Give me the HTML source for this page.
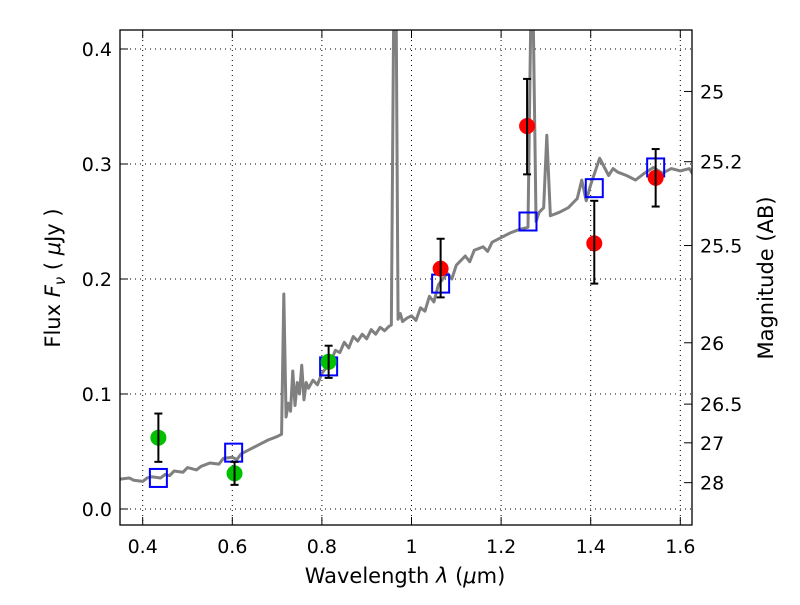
<!DOCTYPE html>
<html><head><meta charset="utf-8"><style>
body{margin:0;background:#fff;}
svg text{font-family:"DejaVu Sans","Liberation Sans",sans-serif;}
</style></head><body>
<svg id="chart" width="800" height="600" xmlns="http://www.w3.org/2000/svg">
<rect width="800" height="600" fill="#fff"/>
<g id="grid"></g>
<g id="spec"></g>
<g id="marks"></g>
<rect x="120" y="30" width="572" height="495" fill="none" stroke="#000" stroke-width="1.3"/>
<g id="ticks"></g>
<text x="405" y="583" font-size="21" text-anchor="middle">Wavelength  <tspan font-style="italic">λ</tspan> (<tspan font-style="italic">μ</tspan>m)</text>
<text transform="translate(60,278) rotate(-90)" font-size="21" text-anchor="middle">Flux  <tspan font-style="italic">F</tspan><tspan font-style="italic" font-size="15" dy="5">ν</tspan><tspan dy="-5">  ( </tspan><tspan font-style="italic">μ</tspan>Jy )</text>
<text transform="translate(773,278) rotate(-90)" font-size="21" text-anchor="middle">Magnitude (AB)</text>
</svg>
<script>
const specLam=[0.35,0.37,0.38,0.40,0.41,0.42,0.44,0.45,0.46,0.47,0.49,0.50,0.52,0.53,0.55,0.57,0.58,0.60,0.61,0.62,0.64,0.66,0.68,0.70,0.71,0.715,0.72,0.725,0.73,0.735,0.74,0.745,0.75,0.755,0.76,0.765,0.77,0.78,0.79,0.80,0.82,0.83,0.84,0.85,0.86,0.87,0.88,0.89,0.90,0.91,0.92,0.93,0.94,0.95,0.955,0.96,0.966,0.97,0.975,0.98,0.99,1.0,1.01,1.02,1.03,1.04,1.05,1.06,1.08,1.09,1.10,1.12,1.13,1.14,1.16,1.17,1.18,1.20,1.22,1.24,1.26,1.266,1.272,1.278,1.285,1.295,1.302,1.31,1.33,1.35,1.37,1.38,1.39,1.40,1.42,1.44,1.45,1.46,1.48,1.50,1.52,1.54,1.56,1.58,1.60,1.62,1.63];
const specFlux=[0.026,0.027,0.025,0.024,0.027,0.028,0.027,0.030,0.029,0.033,0.032,0.036,0.034,0.037,0.040,0.039,0.044,0.045,0.043,0.048,0.052,0.056,0.060,0.063,0.065,0.187,0.080,0.092,0.085,0.12,0.09,0.11,0.10,0.125,0.095,0.11,0.105,0.112,0.108,0.118,0.128,0.138,0.136,0.145,0.140,0.150,0.146,0.152,0.148,0.156,0.152,0.158,0.155,0.159,0.16,0.42,0.42,0.165,0.17,0.163,0.166,0.168,0.164,0.175,0.172,0.185,0.180,0.195,0.205,0.200,0.212,0.22,0.215,0.225,0.228,0.224,0.232,0.236,0.24,0.243,0.245,0.42,0.42,0.25,0.258,0.262,0.325,0.255,0.258,0.262,0.27,0.286,0.268,0.282,0.305,0.29,0.296,0.293,0.29,0.286,0.292,0.297,0.292,0.296,0.294,0.296,0.29];
const greenLam=[0.435,0.605,0.815];
const greenFlux=[0.062,0.031,0.128];
const greenLo=[0.041,0.021,0.114];
const greenHi=[0.083,0.041,0.142];
const redLam=[1.065,1.258,1.408,1.545];
const redFlux=[0.209,0.333,0.231,0.288];
const redLo=[0.184,0.291,0.196,0.263];
const redHi=[0.235,0.374,0.268,0.313];
const modelLam=[0.435,0.603,0.815,1.065,1.26,1.408,1.545];
const modelFlux=[0.027,0.049,0.124,0.196,0.250,0.279,0.297];
const xTicks=[0.4,0.6,0.8,1.0,1.2,1.4,1.6];
const xTickLabels=["0.4","0.6","0.8","1","1.2","1.4","1.6"];
const yTicks=[0.0,0.1,0.2,0.3,0.4];
const yTickLabels=["0.0","0.1","0.2","0.3","0.4"];
const magTicks=[25,25.2,25.5,26,26.5,27,28];
const magLabels=["25","25.2","25.5","26","26.5","27","28"];

const NS="http://www.w3.org/2000/svg";
const X=l=>411.5+(l-1)*448;
const Y=f=>509-f*1150;
function mk(p,tag,a){const e=document.createElementNS(NS,tag);for(const k in a)e.setAttribute(k,a[k]);p.appendChild(e);return e;}
const grid=document.getElementById('grid'),ticks=document.getElementById('ticks'),spec=document.getElementById('spec'),marks=document.getElementById('marks');
xTicks.forEach((v,i)=>{
 const g=mk(grid,'line',{x1:X(v),x2:X(v),y1:30,y2:525,stroke:'#000','stroke-dasharray':'1,4','stroke-width':1});
 
 
 mk(ticks,'line',{x1:X(v),x2:X(v),y1:525,y2:517,stroke:'#000'});
 mk(ticks,'line',{x1:X(v),x2:X(v),y1:30,y2:38,stroke:'#000'});
 const t=mk(ticks,'text',{x:X(v),y:553,'font-size':19,'text-anchor':'middle'});t.textContent=xTickLabels[i];
 
 
});
yTicks.forEach((v,i)=>{
 const g=mk(grid,'line',{x1:120,x2:692,y1:Y(v),y2:Y(v),stroke:'#000','stroke-dasharray':'1,4','stroke-width':1});
 
 
 mk(ticks,'line',{x1:120,x2:128,y1:Y(v),y2:Y(v),stroke:'#000'});
 const t=mk(ticks,'text',{x:112,y:Y(v)+7,'font-size':19,'text-anchor':'end'});t.textContent=yTickLabels[i];
 
 
});
magTicks.forEach((m,i)=>{
 const y=Y(Math.pow(10,(23.9-m)/2.5));
 mk(ticks,'line',{x1:684,x2:692,y1:y,y2:y,stroke:'#000'});
 const t=mk(ticks,'text',{x:700,y:y+7,'font-size':19});t.textContent=magLabels[i];
 
 
});
const defs=mk(document.getElementById('chart'),'defs',{});
const cp=mk(defs,'clipPath',{id:'clip'});mk(cp,'rect',{x:120,y:30,width:572,height:495});
spec.setAttribute('clip-path','url(#clip)');
const sp=mk(spec,'polyline',{points:specLam.map((l,i)=>X(l)+','+Y(specFlux[i])).join(' '),fill:'none',stroke:'#808080','stroke-width':3,'stroke-linejoin':'round'});


function err(l,lo,hi){
 mk(marks,'line',{x1:X(l),x2:X(l),y1:Y(lo),y2:Y(hi),stroke:'#000','stroke-width':2});
 mk(marks,'line',{x1:X(l)-4,x2:X(l)+4,y1:Y(lo),y2:Y(lo),stroke:'#000','stroke-width':2});
 mk(marks,'line',{x1:X(l)-4,x2:X(l)+4,y1:Y(hi),y2:Y(hi),stroke:'#000','stroke-width':2});
}
modelLam.forEach((l,i)=>{
 const r=mk(marks,'rect',{x:X(l)-8.5,y:Y(modelFlux[i])-9,width:17,height:18,fill:'none',stroke:'#0000ff','stroke-width':2});
 
 
});
greenLam.forEach((l,i)=>{
 const c=mk(marks,'circle',{cx:X(l),cy:Y(greenFlux[i]),r:8,fill:'#00c000'});
 
 
 err(l,greenLo[i],greenHi[i]);
});
redLam.forEach((l,i)=>{
 const c=mk(marks,'circle',{cx:X(l),cy:Y(redFlux[i]),r:8,fill:'#ff0000'});
 
 
 err(l,redLo[i],redHi[i]);
});
</script>
</body></html>
